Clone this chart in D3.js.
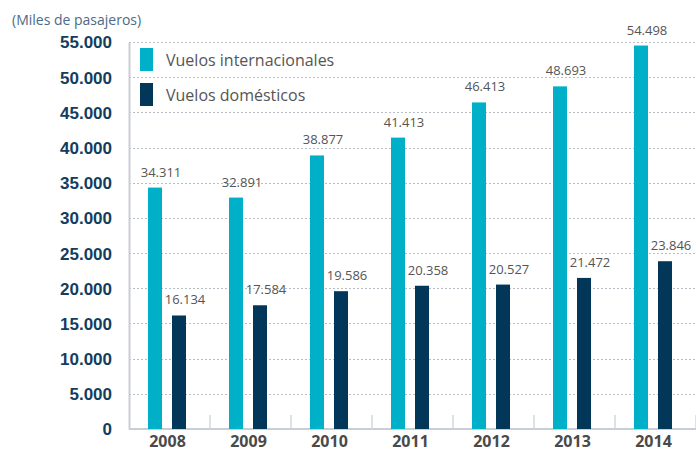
<!DOCTYPE html>
<html>
<head>
  <meta charset="UTF-8">
  <title>Pasajeros por tipo de vuelo</title>
  <style>
    body {
      margin: 0;
      background: #fff;
      font-family: "Open Sans", "Noto Sans", sans-serif;
      overflow: hidden;
    }
    .grid line {
      stroke: #b8bec6;
      stroke-width: 1px;
      stroke-dasharray: 2,2;
    }
    .y-axis text {
      font-size: 17px;
      font-weight: bold;
      fill: #123d5e;
    }
    .x-axis text {
      font-size: 16px;
      font-weight: bold;
      fill: #4a4a4a;
    }
    .value {
      font-size: 13px;
      fill: #555;
      text-anchor: middle;
    }
    .legend text {
      font-size: 16px;
      fill: #555;
    }
  </style>
</head>
<body>

<svg id="chart"></svg>

<script src="https://d3js.org/d3.v7.min.js"></script>
<script>
const width = 696;
const height = 464;
const margin = { top: 42, right: 0, bottom: 35, left: 129 };

const years = ["2008", "2009", "2010", "2011", "2012", "2013", "2014"];
const internacionales = [34311, 32891, 38877, 41413, 46413, 48693, 54498];
const domesticos = [16134, 17584, 19586, 20358, 20527, 21472, 23846];
const seriesNames = ["Vuelos internacionales", "Vuelos domésticos"];
const colors = ["#00afc8", "#03375a"];
const yTicks = [0, 5000, 10000, 15000, 20000, 25000, 30000, 35000, 40000, 45000, 50000, 55000];

const fmt = d3.formatLocale({ decimal: ",", thousands: ".", grouping: [3], currency: ["", ""] }).format(",");

const svg = d3.select("#chart")
  .attr("width", width)
  .attr("height", height);

const x = d3.scaleBand()
  .domain(years)
  .range([margin.left, width - margin.right]);

// position of the two bars inside each year band
const x1 = d3.scaleBand()
  .domain([0, 1])
  .range([19, 57])
  .paddingInner(10 / 24);

const y = d3.scaleLinear()
  .domain([0, 55000])
  .range([height - margin.bottom, margin.top]);

// label above the axis
svg.append("text")
  .attr("x", 12)
  .attr("y", 25)
  .attr("font-size", 14)
  .attr("fill", "#4d6a86")
  .text("(Miles de pasajeros)");

// dotted gridlines
svg.append("g")
  .attr("class", "grid")
  .selectAll("line")
  .data(yTicks.filter(d => d > 0))
  .join("line")
  .attr("x1", margin.left)
  .attr("x2", width)
  .attr("y1", d => Math.round(y(d)) + 0.5)
  .attr("y2", d => Math.round(y(d)) + 0.5);

// y axis
const yAxis = svg.append("g")
  .attr("class", "y-axis")
  .attr("transform", `translate(${margin.left},0)`)
  .call(d3.axisLeft(y).tickValues(yTicks).tickFormat(fmt).tickSize(0).tickPadding(17));
yAxis.select(".domain").attr("stroke", "#c9ced4").attr("stroke-width", 2);
yAxis.selectAll("text").attr("dy", "0.35em");

// x axis baseline + separators
const base = y(0);
svg.append("line")
  .attr("x1", margin.left)
  .attr("x2", width)
  .attr("y1", base)
  .attr("y2", base)
  .attr("stroke", "#c9ced4")
  .attr("stroke-width", 2);

svg.append("g")
  .selectAll("line")
  .data(years)
  .join("line")
  .attr("x1", d => x(d) + x.step())
  .attr("x2", d => x(d) + x.step())
  .attr("y1", base - 14)
  .attr("y2", base)
  .attr("stroke", "#d3d7dc")
  .attr("stroke-width", 1.5);

svg.append("g")
  .attr("class", "x-axis")
  .selectAll("text")
  .data(years)
  .join("text")
  .attr("x", d => x(d) + x.bandwidth() / 2 - 2)
  .attr("y", base + 18)
  .attr("text-anchor", "middle")
  .text(d => d);

// bars
const series = [internacionales, domesticos];

series.forEach((vals, s) => {
  const g = svg.append("g");
  g.selectAll("rect")
    .data(vals)
    .join("rect")
    .attr("x", (d, i) => x(years[i]) + x1(s))
    .attr("y", d => y(d))
    .attr("width", x1.bandwidth())
    .attr("height", d => y(0) - y(d))
    .attr("fill", colors[s]);

  g.selectAll("text")
    .data(vals)
    .join("text")
    .attr("class", "value")
    .attr("x", (d, i) => x(years[i]) + x1(s) + x1.bandwidth() / 2 + 6)
    .attr("y", d => y(d) - 11)
    .text(d => fmt(d));
});

// legend
const legend = svg.append("g").attr("class", "legend");
seriesNames.forEach((name, i) => {
  legend.append("rect")
    .attr("x", 140)
    .attr("y", 48 + i * 35)
    .attr("width", 13)
    .attr("height", 23)
    .attr("fill", colors[i]);
  legend.append("text")
    .attr("x", 166)
    .attr("y", 60 + i * 35)
    .attr("dy", "0.35em")
    .text(name);
});
</script>

</body>
</html>
